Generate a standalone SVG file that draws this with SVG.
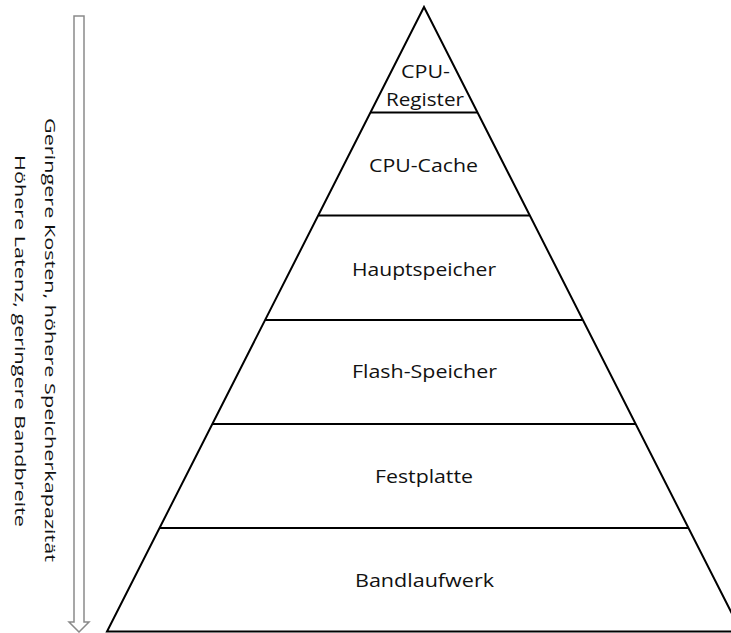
<svg xmlns="http://www.w3.org/2000/svg" width="731" height="633" viewBox="0 0 731 633">
<style>
.lvl{fill:none;stroke:#000;stroke-width:2}
.lbl{font-family:"Open Sans","Liberation Sans",sans-serif;font-size:19px;fill:#111;text-anchor:middle}
.side{font-family:"Open Sans","Liberation Sans",sans-serif;font-size:15px;fill:#111}
.arrow{fill:#fff;stroke:#8a8a8a;stroke-width:1.5}
</style>
<rect width="731" height="633" fill="#fff"/>
<g id="connectors">
<path class="arrow" d="M74,16 H84 V622 H89 L79,632 L69,622 H74 Z"/>
</g>
<g id="pyramid">
<polygon class="lvl" points="424,7 107,631.5 741,631.5"/>
<line class="lvl" x1="370.7" y1="112.5" x2="477.3" y2="112.5"/>
<line class="lvl" x1="318.5" y1="215.5" x2="529.5" y2="215.5"/>
<line class="lvl" x1="265.2" y1="320" x2="582.8" y2="320"/>
<line class="lvl" x1="212.5" y1="424" x2="635.5" y2="424"/>
<line class="lvl" x1="160" y1="528" x2="688" y2="528"/>
</g>
<g id="cpu-register"><text class="lbl" x="425.5" y="78" textLength="49" lengthAdjust="spacingAndGlyphs">CPU-</text><text class="lbl" x="425" y="106" textLength="78" lengthAdjust="spacingAndGlyphs">Register</text></g>
<g id="cpu-cache"><text class="lbl" x="423.5" y="172" textLength="109" lengthAdjust="spacingAndGlyphs">CPU-Cache</text></g>
<g id="hauptspeicher"><text class="lbl" x="424" y="276" textLength="144" lengthAdjust="spacingAndGlyphs">Hauptspeicher</text></g>
<g id="flash-speicher"><text class="lbl" x="424.5" y="378" textLength="145" lengthAdjust="spacingAndGlyphs">Flash-Speicher</text></g>
<g id="festplatte"><text class="lbl" x="424" y="483" textLength="98" lengthAdjust="spacingAndGlyphs">Festplatte</text></g>
<g id="bandlaufwerk"><text class="lbl" x="424.5" y="587" textLength="139" lengthAdjust="spacingAndGlyphs">Bandlaufwerk</text></g>
<g id="side-label">
<text class="side" transform="translate(45,118) rotate(90)" x="0" y="0" textLength="444" lengthAdjust="spacingAndGlyphs">Geringere Kosten, höhere Speicherkapazität</text>
<text class="side" transform="translate(15,155) rotate(90)" x="0" y="0" textLength="372" lengthAdjust="spacingAndGlyphs">Höhere Latenz, geringere Bandbreite</text>
</g>
</svg>
